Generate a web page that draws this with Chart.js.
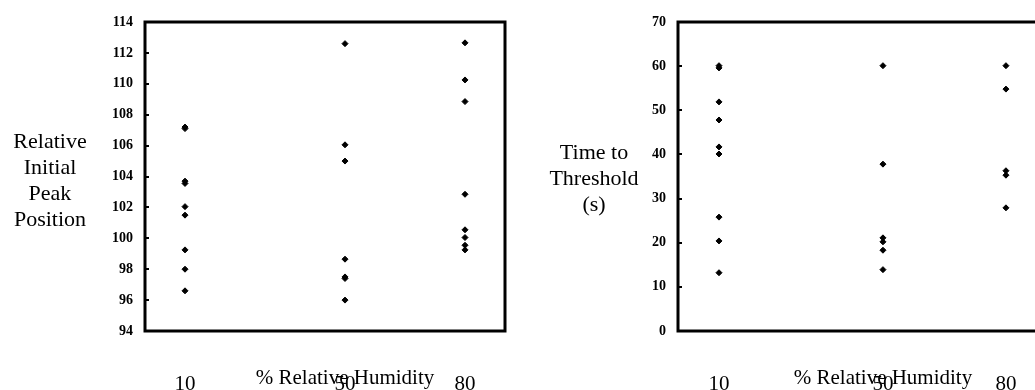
<!DOCTYPE html>
<html>
<head>
<meta charset="utf-8">
<script src="https://cdn.jsdelivr.net/npm/chart.js@4.4.0/dist/chart.umd.min.js"></script>
<style>
  html, body { margin: 0; padding: 0; background: #fff; overflow: hidden; }
  #wrap { position: relative; width: 1035px; height: 390px; overflow: hidden; }
  canvas { position: absolute; top: 0; }
  .ytitle {
    position: absolute;
    font-family: "Liberation Serif", "Times New Roman", serif;
    font-size: 22px;
    line-height: 26px;
    text-align: center;
    color: #000;
    white-space: nowrap;
  }
</style>
</head>
<body>
<div id="wrap">
  <canvas id="peakChart" width="520" height="390" style="left:0"></canvas>
  <canvas id="timeChart" width="538" height="390" style="left:520px"></canvas>
  <div class="ytitle" style="left:0; width:100px; top:128px">Relative<br>Initial<br>Peak<br>Position</div>
  <div class="ytitle" style="left:544px; width:100px; top:139px">Time to<br>Threshold<br>(s)</div>
</div>
<script>
// Humidity levels tested (% RH)
const humidity = [10, 50, 80];

// Relative initial peak position, one list per humidity level
const peak10 = [107.2, 107.1, 103.7, 103.55, 102.05, 101.5, 99.25, 98.0, 96.6];
const peak50 = [112.6, 106.05, 105.0, 98.65, 97.5, 97.4, 96.0];
const peak80 = [112.65, 110.25, 108.85, 102.85, 100.55, 100.05, 99.55, 99.25];

// Time to threshold (s), one list per humidity level
const time10 = [60.1, 59.6, 51.9, 47.8, 41.7, 40.1, 25.8, 20.4, 13.2];
const time50 = [60.1, 37.8, 21.1, 20.2, 18.3, 13.9];
const time80 = [60.1, 54.8, 36.3, 35.3, 27.9];

const peakTicks = [94, 96, 98, 100, 102, 104, 106, 108, 110, 112, 114];
const timeTicks = [0, 10, 20, 30, 40, 50, 60, 70];

const serif = '"Liberation Serif", "Times New Roman", serif';

function toPoints(values, x) {
  return values.map(v => ({ x: x, y: v }));
}

// frame around the plot, small inward ticks on the y axis, x title
const framePlugin = {
  id: 'frame',
  afterDraw(chart) {
    const ctx = chart.ctx;
    const a = chart.chartArea;
    const xScale = chart.scales.x;
    const yScale = chart.scales.y;
    ctx.save();
    ctx.strokeStyle = '#000';
    ctx.lineWidth = 3;
    ctx.strokeRect(a.left, a.top, a.right - a.left, a.bottom - a.top);
    ctx.lineWidth = 2;
    yScale.ticks.forEach(t => {
      const py = Math.round(yScale.getPixelForValue(t.value));
      ctx.beginPath();
      ctx.moveTo(a.left, py);
      ctx.lineTo(a.left + 4, py);
      ctx.stroke();
    });
    // title sits over the middle humidity tick
    ctx.fillStyle = '#000';
    ctx.font = '21px ' + serif;
    ctx.textAlign = 'center';
    ctx.textBaseline = 'alphabetic';
    ctx.fillText('% Relative Humidity', xScale.getPixelForValue(humidity[1]), 384);
    ctx.restore();
  }
};

function makeChart(id, groups, yTicks, padLeft, padRight) {
  const datasets = groups.map((vals, i) => ({
    data: toPoints(vals, humidity[i]),
    pointStyle: 'rectRot',
    pointRadius: 3,
    pointBorderWidth: 1,
    backgroundColor: '#000',
    borderColor: '#000'
  }));
  return new Chart(document.getElementById(id), {
    type: 'scatter',
    data: { datasets: datasets },
    plugins: [framePlugin],
    options: {
      responsive: false,
      animation: false,
      devicePixelRatio: 1,
      layout: { padding: { left: padLeft, right: padRight, top: 22, bottom: 0 } },
      plugins: { legend: { display: false }, tooltip: { enabled: false } },
      scales: {
        x: {
          type: 'linear',
          min: 0,
          max: 90,
          grid: { display: false, drawTicks: false },
          border: { display: false },
          afterBuildTicks(scale) { scale.ticks = humidity.map(v => ({ value: v })); },
          afterFit(scale) { scale.height = 59; },
          ticks: {
            color: '#000',
            padding: 41,
            maxRotation: 0,
            autoSkip: false,
            font: { family: serif, size: 21 }
          }
        },
        y: {
          min: yTicks[0],
          max: yTicks[yTicks.length - 1],
          grid: { display: false, drawTicks: false },
          border: { display: false },
          afterBuildTicks(scale) { scale.ticks = yTicks.map(v => ({ value: v })); },
          afterFit(scale) { scale.width = 45; },
          ticks: {
            color: '#000',
            padding: 12,
            font: { family: serif, size: 14, weight: 'bold' }
          }
        }
      }
    }
  });
}

makeChart('peakChart', [peak10, peak50, peak80], peakTicks, 100, 15);
makeChart('timeChart', [time10, time50, time80], timeTicks, 113, 4);
</script>
</body>
</html>
